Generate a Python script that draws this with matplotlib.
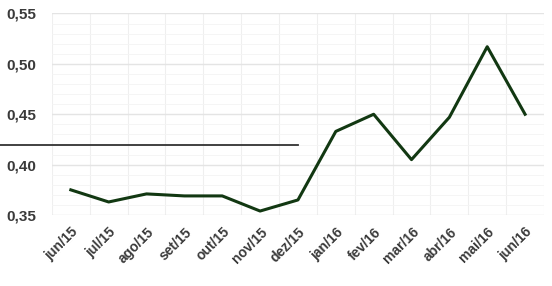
import matplotlib.pyplot as plt
import numpy as np

months = ["jun/15", "jul/15", "ago/15", "set/15", "out/15", "nov/15",
          "dez/15", "jan/16", "fev/16", "mar/16", "abr/16", "mai/16",
          "jun/16"]
values = [0.375, 0.363, 0.371, 0.369, 0.369, 0.354, 0.365,
          0.433, 0.450, 0.405, 0.447, 0.517, 0.450]
y_ticks = [0.35, 0.40, 0.45, 0.50, 0.55]
ref_value = 0.42
ref_end = "dez/15"

plt.rcParams['font.family'] = ['Liberation Sans', 'DejaVu Sans']

fig = plt.figure(figsize=(5.52, 2.86), dpi=100)
ax = fig.add_axes([0.094, 0.248, 0.8915, 0.705])

x = np.arange(len(months))
ax.plot(x, values, color="#123812", linewidth=2.2, zorder=3)

# reference line runs from the left edge of the image to dez/15
ax.set_xlim(-0.5, len(months) - 0.5)
ax.set_ylim(y_ticks[0], y_ticks[-1])
px_per_cat = ax.get_position().width * 552 / len(months)
left = -0.5 - ax.get_position().x0 * 552 / px_per_cat
ax.plot([left, months.index(ref_end)], [ref_value, ref_value],
        color="#333333", linewidth=1.3, clip_on=False, zorder=4)

ax.set_yticks(y_ticks)
ax.set_yticklabels([f"{v:.2f}".replace(".", ",") for v in y_ticks])
ax.set_yticks(np.arange(0.35, 0.551, 0.01), minor=True)
ax.set_xticks(x)
ax.set_xticklabels(months, rotation=45, ha="right", rotation_mode="anchor")
ax.set_xticks(np.arange(-0.5, len(months), 1.0), minor=True)

ax.grid(True, which="major", axis="y", color="#e4e4e4", linewidth=1.0)
ax.grid(True, which="minor", axis="y", color="#f4f4f4", linewidth=0.6)
ax.grid(True, which="minor", axis="x", color="#efefef", linewidth=0.8)
ax.set_axisbelow(True)

ax.tick_params(axis="both", which="both", length=0)
ax.tick_params(axis="y", pad=11, labelsize=11, labelcolor="#3a3a3a")
ax.tick_params(axis="x", pad=7, labelsize=10, labelcolor="#3a3a3a")
for lab in ax.get_xticklabels() + ax.get_yticklabels():
    lab.set_fontweight("bold")
for s in ax.spines.values():
    s.set_visible(False)

fig.savefig("out.png", dpi=100)
